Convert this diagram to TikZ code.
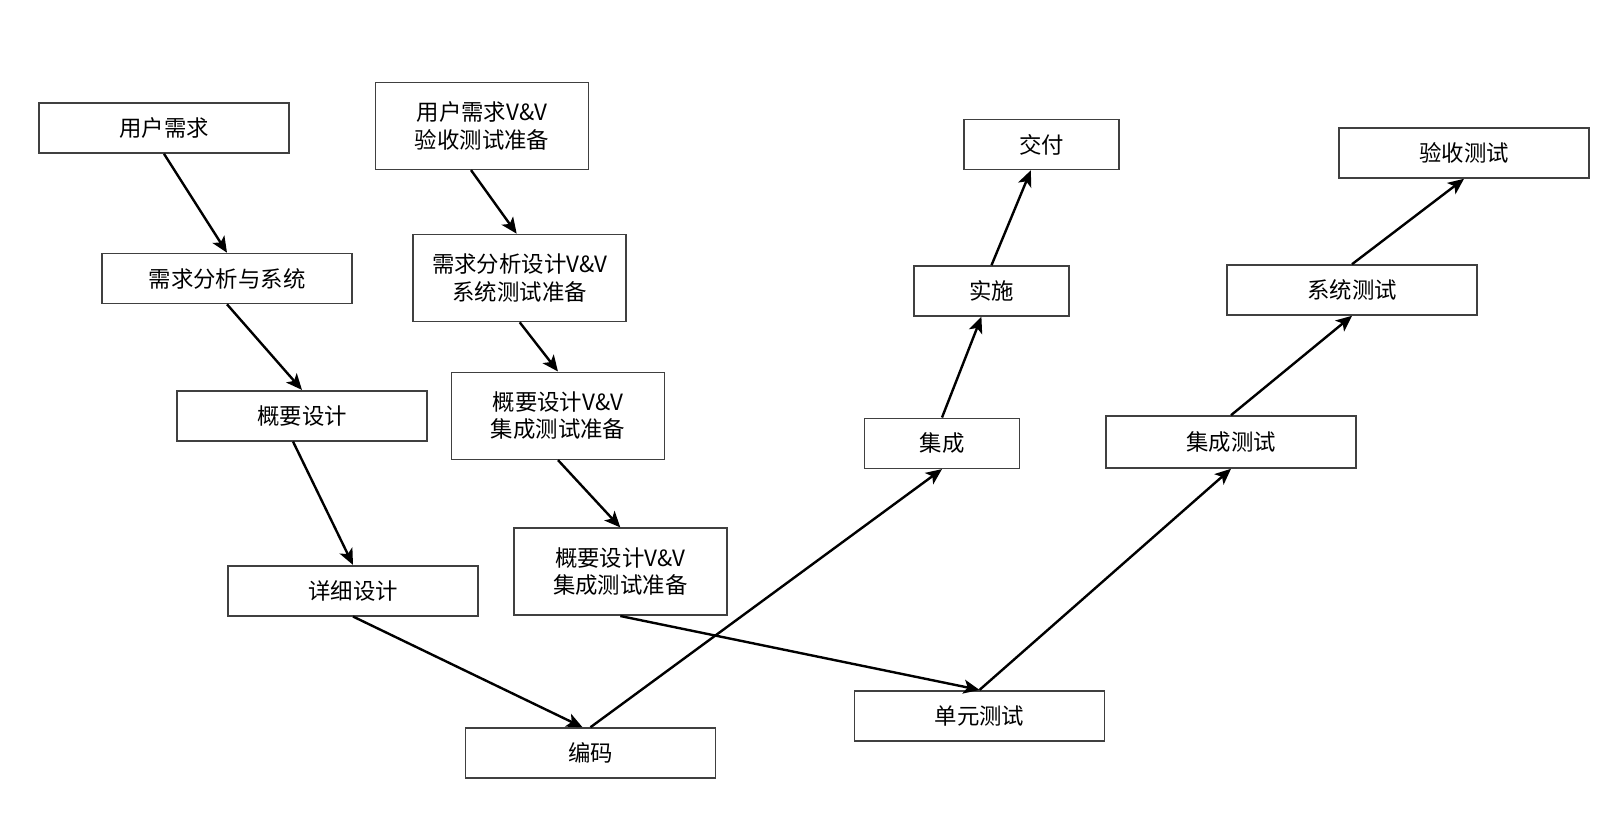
\documentclass[tikz,border=0pt]{standalone}
\usepackage{fontspec}
\setmainfont{Noto Sans CJK SC}
\usetikzlibrary{arrows.meta}

\begin{document}
\begin{tikzpicture}[
  x=0.5pt, y=-0.5pt,
  box/.style={draw=black!75, line width=0.8pt, align=center, inner sep=0pt,
    minimum width=125pt, minimum height=25pt, font=\fontsize{11.2}{13.75}\selectfont},
  vvbox/.style={box, minimum width=106.5pt, minimum height=43.5pt},
  smallbox/.style={box, minimum width=77.5pt},
  arrow/.style={-{Stealth[length=8pt,width=7pt,inset=2pt]}, line width=1.2pt}
]
\useasboundingbox (0,0) rectangle (1611,832);
% left leg
\node[box] (ur) at (164,128) {用户需求};
\node[box] (xq) at (227,278.5) {需求分析与系统};
\node[box] (gy) at (302,415.7) {概要设计};
\node[box] (xx) at (353,590.7) {详细设计};
\node[box] (bm) at (590.5,753) {编码};
% V&V column
\node[vvbox] (uv) at (482,125.8) {用户需求V\&V\\验收测试准备};
\node[vvbox] (xv) at (519.7,278) {需求分析设计V\&V\\系统测试准备};
\node[vvbox] (gv) at (558,415.8) {概要设计V\&V\\集成测试准备};
\node[vvbox] (gw) at (620.3,571.7) {概要设计V\&V\\集成测试准备};
% right legs
\node[smallbox] (jc) at (942,443.3) {集成};
\node[smallbox] (ss) at (991.5,291) {实施};
\node[smallbox] (jf) at (1041.5,144.5) {交付};
\node[box] (dy) at (979.5,715.7) {单元测试};
\node[box, minimum height=26pt] (jt) at (1231,442) {集成测试};
\node[box] (xt) at (1352,290) {系统测试};
\node[box] (ys) at (1464,153) {验收测试};
\draw[arrow] (ur.south) -- (xq.north);
\draw[arrow] (xq.south) -- (gy.north);
\draw[arrow] ([xshift=-4.5pt]gy.south) -- (xx.north);
\draw[arrow] (xx.south) -- ([xshift=-4pt]bm.north);
\draw[arrow] ([xshift=-5.5pt]uv.south) -- ([xshift=-1.5pt]xv.north);
\draw[arrow] (xv.south) -- (gv.north);
\draw[arrow] (gv.south) -- (gw.north);
\draw[arrow] (gw.south) -- (dy.north);
\draw[arrow] (bm.north) -- (jc.south);
\draw[arrow] (jc.north) -- (ss);
\draw[arrow] (ss.north) -- (jf);
\draw[arrow] (dy.north) -- (jt.south);
\draw[arrow] (jt.north) -- (xt.south);
\draw[arrow] (xt.north) -- (ys.south);
\end{tikzpicture}
\end{document}
